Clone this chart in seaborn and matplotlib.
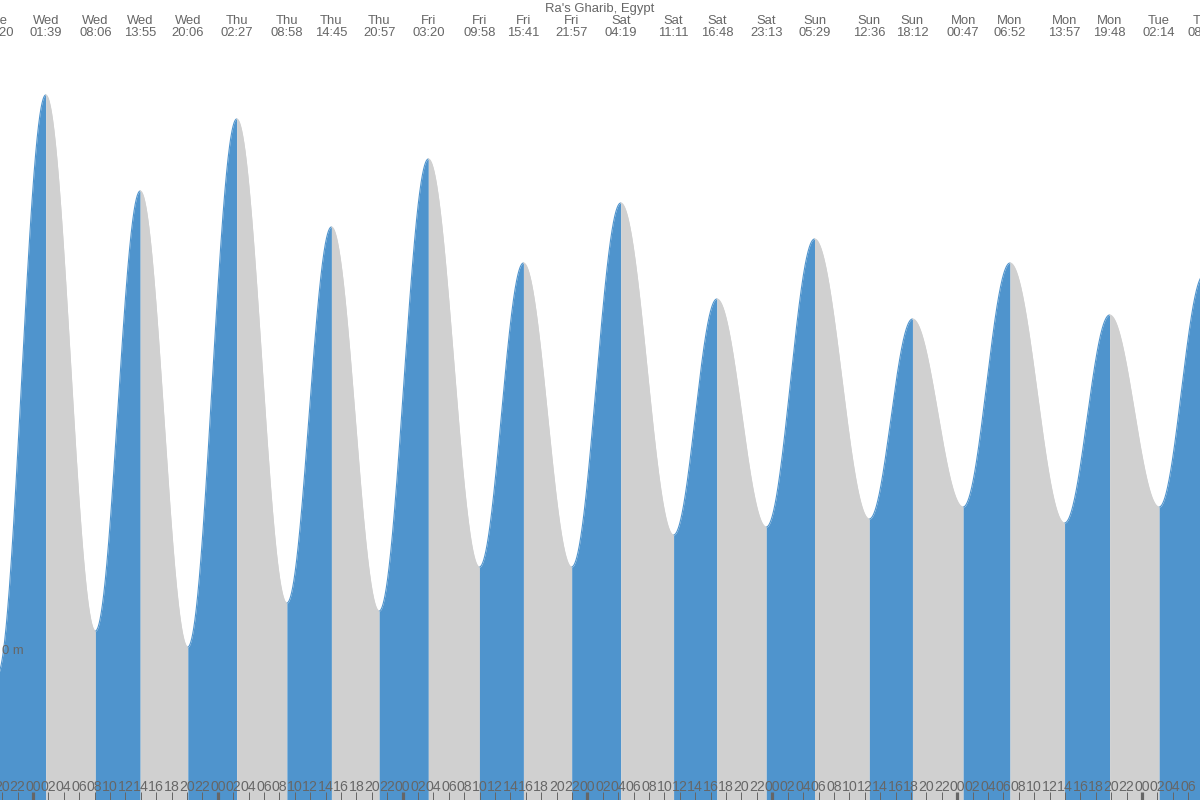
import numpy as np
import pandas as pd
import matplotlib
matplotlib.use("Agg")
import matplotlib.pyplot as plt
import matplotlib.transforms as mtransforms
import seaborn as sns

# ---------------- data ----------------
title = "Ra's Gharib, Egypt"
# tide extremes: day label, day offset (relative to Wed), time, height (m)
ext_days = ["Tue", "Wed", "Wed", "Wed", "Wed", "Thu", "Thu", "Thu", "Thu",
            "Fri", "Fri", "Fri", "Fri", "Sat", "Sat", "Sat", "Sat",
            "Sun", "Sun", "Sun", "Mon", "Mon", "Mon", "Mon", "Tue", "Tue"]
ext_day_offset = [-1, 0, 0, 0, 0, 1, 1, 1, 1, 2, 2, 2, 2, 3, 3, 3, 3,
                  4, 4, 4, 5, 5, 5, 5, 6, 6]
ext_times = ["19:20", "01:39", "08:06", "13:55", "20:06", "02:27", "08:58",
             "14:45", "20:57", "03:20", "09:58", "15:41", "21:57", "04:19",
             "11:11", "16:48", "23:13", "05:29", "12:36", "18:12", "00:47",
             "06:52", "13:57", "19:48", "02:14", "08:02"]
ext_heights = [-0.06, 1.39, 0.05, 1.15, 0.01, 1.33, 0.12, 1.06, 0.10,
               1.23, 0.21, 0.97, 0.21, 1.12, 0.29, 0.88, 0.31,
               1.03, 0.33, 0.83, 0.36, 0.97, 0.32, 0.84, 0.36, 0.94]

# ---------------- styling ----------------
BLUE = "#4F94CD"
GREY = "#D0D0D0"
TXT = "#666666"

sns.set_theme(style="white")
plt.rcParams["font.family"] = ["Liberation Sans", "DejaVu Sans"]

# hours since Wed 00:00
ext_hours = [d * 24 + int(t[:2]) + int(t[3:]) / 60.0
             for d, t in zip(ext_day_offset, ext_times)]

rows = []
for i in range(len(ext_hours) - 1):
    t0, t1 = ext_hours[i], ext_hours[i + 1]
    h0, h1 = ext_heights[i], ext_heights[i + 1]
    phase = "rise" if h1 > h0 else "fall"
    tt = np.linspace(t0, t1, 200)
    hh = h0 + (h1 - h0) * (1 - np.cos(np.pi * (tt - t0) / (t1 - t0))) / 2
    for a, b in zip(tt, hh):
        rows.append((i, phase, a, b))
df = pd.DataFrame(rows, columns=["seg", "phase", "t", "h"])

fig = plt.figure(figsize=(12, 8), dpi=100)
ax = fig.add_axes([0, 0, 1, 1])

x_left, x_right = -33 / 7.701, (1200 - 33) / 7.701
y_bot, y_top = -149 / 400, 651 / 400
ax.set_xlim(x_left, x_right)
ax.set_ylim(y_bot, y_top)

palette = {"rise": BLUE, "fall": GREY}
for seg, g in df.groupby("seg"):
    ax.fill_between(g["t"], g["h"], y_bot, color=palette[g["phase"].iloc[0]],
                    linewidth=0)
sns.lineplot(data=df, x="t", y="h", hue="phase", units="seg", estimator=None,
             palette=palette, legend=False, linewidth=0.8, ax=ax)

for s in ax.spines.values():
    s.set_visible(False)
ax.set_xlabel("")
ax.set_ylabel("")
ax.set_yticks([])
ax.set_axisbelow(False)
ax.xaxis.set_zorder(5)

# bottom hour ticks
tick_locs = np.arange(-4, 152, 2)
ax.set_xticks(tick_locs)
ax.set_xticklabels([f"{int(v) % 24:02d}" for v in tick_locs])
ax.tick_params(axis="x", direction="in", length=5.8, width=0.72, color=TXT,
               labelcolor=TXT, labelsize=10.2, pad=-14.6, bottom=True,
               labelbottom=True)
for tk, loc in zip(ax.xaxis.get_major_ticks(), tick_locs):
    if loc % 24 == 0:
        tk.tick1line.set_markeredgewidth(2.3)

# top labels for extremes
trans = mtransforms.blended_transform_factory(ax.transData, ax.transAxes)
for d, t, x in zip(ext_days, ext_times, ext_hours):
    ax.text(x, 1 - 21 / 800, d, transform=trans, ha="center", va="center",
            fontsize=9.4, color=TXT, clip_on=False)
    ax.text(x, 1 - 33 / 800, t, transform=trans, ha="center", va="center",
            fontsize=9.4, color=TXT, clip_on=False)

fig.text(0.5, 1 - 9 / 800, title, ha="center", va="center",
         fontsize=9.4, color=TXT)

trans2 = mtransforms.blended_transform_factory(ax.transAxes, ax.transData)
ax.text(2 / 1200, 0.0, "0 m", transform=trans2, ha="left", va="center",
        fontsize=9.4, color=TXT)

fig.savefig("out.png", dpi=100)
